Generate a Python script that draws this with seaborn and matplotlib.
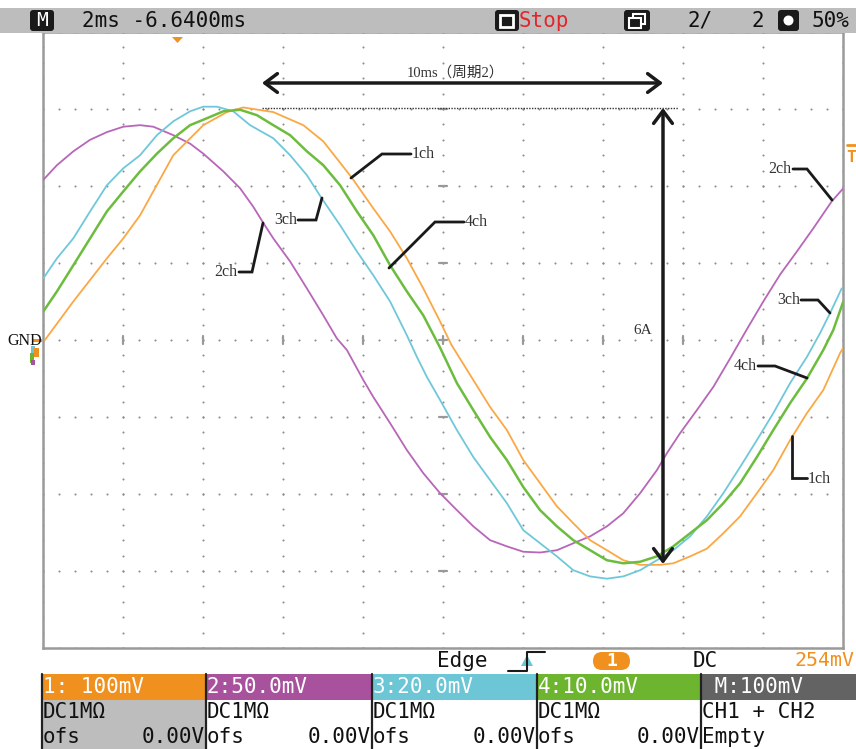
import numpy as np
import pandas as pd
import matplotlib
matplotlib.use("Agg")
import matplotlib.pyplot as plt
import seaborn as sns
from matplotlib.patches import Rectangle, FancyBboxPatch, Polygon, Circle

sns.set_theme(style="white")
plt.rcParams["font.family"] = ["DejaVu Sans", "Noto Sans CJK SC"]

# ---------------- data (time in ms, value in divisions) ----------------
ch1_t = [0.04, 0.75, 1.59, 2.0, 2.42, 3.25, 4.0, 4.59, 5.0, 5.75, 6.5, 7.0, 7.71, 8.25, 8.67,
         9.09, 9.5, 9.92, 10.2, 10.75, 11.17, 11.59, 12.0, 12.42, 12.84, 13.25, 13.67, 14.09,
         14.5, 14.92, 15.42, 15.75, 16.17, 16.59, 17.0, 17.42, 17.84, 18.25, 18.67, 19.09,
         19.5, 19.92, 20.0]
ch1_v = [0.0, 0.50, 1.06, 1.32, 1.62, 2.40, 2.79, 2.96, 3.02, 2.96, 2.79, 2.58, 2.11, 1.71, 1.41,
         1.06, 0.67, 0.24, -0.06, -0.52, -0.87, -1.17, -1.56, -1.86, -2.16, -2.38, -2.60, -2.73,
         -2.86, -2.92, -2.92, -2.90, -2.81, -2.71, -2.51, -2.29, -1.99, -1.69, -1.30, -0.95,
         -0.65, -0.17, -0.10]

ch2_t = [0, 0.34, 0.75, 1.17, 1.59, 2.0, 2.42, 2.75, 3.25, 3.67, 4.0, 4.5, 4.92, 5.25, 5.5, 5.75,
         6.17, 6.59, 7.0, 7.34, 7.59, 8.0, 8.25, 8.67, 9.09, 9.5, 9.92, 10.34, 10.75, 11.17,
         11.59, 12.0, 12.42, 12.84, 13.25, 13.67, 14.09, 14.5, 14.92, 15.34, 15.59, 15.92,
         16.34, 16.75, 17.17, 17.59, 18.0, 18.42, 18.84, 19.25, 19.71, 20.0]
ch2_v = [2.08, 2.27, 2.45, 2.60, 2.70, 2.77, 2.79, 2.77, 2.66, 2.55, 2.42, 2.19, 1.97, 1.73, 1.52,
         1.32, 1.02, 0.67, 0.32, 0.02, -0.13, -0.52, -0.74, -1.08, -1.43, -1.73, -1.99, -2.21,
         -2.42, -2.60, -2.68, -2.75, -2.76, -2.73, -2.64, -2.55, -2.42, -2.25, -1.99, -1.69,
         -1.47, -1.21, -0.91, -0.61, -0.24, 0.14, 0.50, 0.85, 1.15, 1.45, 1.80, 1.97]

ch3_t = [0, 0.34, 0.75, 1.17, 1.59, 2.0, 2.42, 2.84, 3.25, 3.67, 4.0, 4.34, 4.75, 5.17, 5.75,
         6.17, 6.59, 6.96, 7.42, 7.84, 8.25, 8.67, 9.09, 9.34, 9.59, 9.92, 10.34, 10.75, 11.17,
         11.59, 12.0, 12.42, 12.84, 13.25, 13.67, 14.09, 14.5, 14.92, 15.34, 15.75, 16.17,
         16.59, 17.0, 17.42, 17.84, 18.25, 18.67, 19.09, 19.42, 19.67, 19.96]
ch3_v = [0.80, 1.06, 1.32, 1.67, 2.01, 2.23, 2.40, 2.66, 2.84, 2.97, 3.03, 3.03, 2.97, 2.79, 2.62,
         2.40, 2.14, 1.84, 1.49, 1.15, 0.84, 0.50, 0.06, -0.22, -0.48, -0.78, -1.17, -1.52,
         -1.82, -2.12, -2.47, -2.64, -2.81, -2.99, -3.07, -3.10, -3.07, -2.99, -2.86, -2.73,
         -2.55, -2.29, -1.99, -1.65, -1.30, -0.95, -0.56, -0.22, 0.09, 0.35, 0.67]

ch4_t = [0, 0.34, 0.75, 1.17, 1.59, 2.0, 2.42, 2.84, 3.25, 3.67, 4.09, 4.5, 4.92, 5.34, 5.75,
         6.17, 6.59, 7.0, 7.42, 7.84, 8.25, 8.67, 9.09, 9.5, 9.92, 10.34, 10.75, 11.17, 11.59,
         12.0, 12.42, 12.84, 13.25, 13.67, 14.09, 14.5, 14.92, 15.34, 15.75, 16.17, 16.59,
         17.0, 17.42, 17.84, 18.25, 18.67, 19.09, 19.5, 19.75, 20.0]
ch4_v = [0.37, 0.63, 0.97, 1.32, 1.67, 1.93, 2.19, 2.42, 2.62, 2.79, 2.88, 2.97, 2.99, 2.92, 2.79,
         2.66, 2.45, 2.27, 2.01, 1.67, 1.36, 0.97, 0.63, 0.32, -0.10, -0.56, -0.91, -1.26,
         -1.56, -1.91, -2.21, -2.42, -2.60, -2.73, -2.86, -2.90, -2.88, -2.81, -2.68, -2.51,
         -2.34, -2.12, -1.86, -1.52, -1.17, -0.82, -0.50, -0.13, 0.13, 0.50]

channels = ["2ch", "1ch", "3ch", "4ch"]
header_labels = ["1: 100mV", "2:50.0mV", "3:20.0mV", "4:10.0mV", " M:100mV"]

# ---------------- colours ----------------
C_OR = "#F0901E"
C_PU = "#A8529E"
C_CY = "#6CC6D6"
C_GR = "#6DB52F"
C_MG = "#636363"
trace_pal = {"1ch": "#FBA844", "2ch": "#B866B8", "3ch": "#6FC8DA", "4ch": "#6CBD3E"}

W, H = 856, 749
fig = plt.figure(figsize=(W / 100, H / 100), dpi=100)
fig.patch.set_facecolor("white")

X0, X1 = 43.3, 843.3
Y0, Y1 = 32.0, 648.0
ax = fig.add_axes([X0 / W, 1 - Y1 / H, (X1 - X0) / W, (Y1 - Y0) / H])
ax.set_xlim(0, 20)
ax.set_ylim(-4, 4)
ax.set_facecolor("white")

# dotted graticule
gcol = "#8c8c8c"
for gx in np.arange(0, 20.01, 2):
    ys = np.arange(-4, 4.001, 0.2)
    ax.scatter(np.full_like(ys, gx), ys, s=2.2, color=gcol, linewidths=0, zorder=1)
for gy in np.arange(-4, 4.01, 1):
    xs = np.arange(0, 20.001, 0.4)
    ax.scatter(xs, np.full_like(xs, gy), s=2.2, color=gcol, linewidths=0, zorder=1)
for gx in np.arange(2, 19.9, 2):
    ax.plot([gx, gx], [-0.055, 0.055], color="#999999", lw=1.6, zorder=1)
for gy in np.arange(-3, 3.1, 1):
    ax.plot([9.9, 10.1], [gy, gy], color="#999999", lw=1.6, zorder=1)

df = pd.concat([
    pd.DataFrame({"t": ch2_t, "v": ch2_v, "ch": "2ch"}),
    pd.DataFrame({"t": ch1_t, "v": ch1_v, "ch": "1ch"}),
    pd.DataFrame({"t": ch3_t, "v": ch3_v, "ch": "3ch"}),
    pd.DataFrame({"t": ch4_t, "v": ch4_v, "ch": "4ch"}),
])
for ch in channels:
    sub = df[df["ch"] == ch]
    sns.lineplot(data=sub, x="t", y="v", color=trace_pal[ch], sort=False, estimator=None,
                 lw=1.8 if ch == "4ch" else 1.3, ax=ax, legend=False, zorder=3)

ax.set_xticks([])
ax.set_yticks([])
ax.set_xlabel("")
ax.set_ylabel("")
for sp in ax.spines.values():
    sp.set_color("#9a9a9a")
    sp.set_linewidth(1.8)

# ---------------- overlay in pixel coordinates ----------------
ov = fig.add_axes([0, 0, 1, 1], zorder=5)
ov.set_xlim(0, W)
ov.set_ylim(H, 0)
ov.axis("off")
ov.patch.set_alpha(0)

MONO = "DejaVu Sans Mono"
FS = 15

# header bar
ov.add_patch(Rectangle((0, 8), W, 25, fc="#BDBDBD", ec="none"))
ov.add_patch(FancyBboxPatch((30, 10), 24, 21, boxstyle="round,pad=0,rounding_size=3",
                            fc="#1a1a1a", ec="none"))
ov.text(42, 21, "M", color="white", family=MONO, fontsize=14, ha="center", va="center")
ov.text(82, 21, "2ms -6.6400ms", color="#111111", family=MONO, fontsize=FS, va="center")
ov.add_patch(FancyBboxPatch((495, 10), 24, 21, boxstyle="round,pad=0,rounding_size=3",
                            fc="#1a1a1a", ec="none"))
ov.add_patch(Rectangle((500.5, 14.5), 13, 12.5, fill=False, ec="white", lw=2))
ov.text(519, 21, "Stop", color="#E4252B", family=MONO, fontsize=FS, va="center")
ov.add_patch(FancyBboxPatch((624, 10), 26, 21, boxstyle="round,pad=0,rounding_size=3",
                            fc="#1a1a1a", ec="none"))
ov.add_patch(Rectangle((633, 14), 12, 10, fill=False, ec="white", lw=1.5))
ov.add_patch(Rectangle((629, 18), 12, 10, fc="#1a1a1a", ec="white", lw=1.5))
ov.text(688, 21, "2/", color="#111111", family=MONO, fontsize=FS, va="center")
ov.text(752, 21, "2", color="#111111", family=MONO, fontsize=FS, va="center")
ov.add_patch(FancyBboxPatch((778, 10), 21, 21, boxstyle="round,pad=0,rounding_size=3",
                            fc="#1a1a1a", ec="none"))
ov.add_patch(Circle((788.5, 20.5), 5, fc="white", ec="none"))
ov.text(812, 21, "50%", color="#111111", family=MONO, fontsize=FS, va="center")

# trigger position marker (top) and level marker (right)
ov.add_patch(Polygon([(172, 37), (183, 37), (177.5, 43)], fc=C_OR, ec="none"))
ov.plot([847, 856], [145, 145], color=C_OR, lw=2)
ov.text(846, 158, "T", color=C_OR, family=MONO, fontsize=11.5, fontweight="bold",
        va="center")

# GND label & ground markers
ov.text(42, 341, "GND", family=["Liberation Serif"], fontsize=11.5, color="#111111",
        ha="right", va="center")
ov.add_patch(Rectangle((33, 339), 9, 3, fc=C_OR, ec="none"))
ov.add_patch(Rectangle((31, 346), 4, 7, fc=C_CY, ec="none"))
ov.add_patch(Rectangle((34, 348), 5, 9, fc=C_OR, ec="none"))
ov.add_patch(Rectangle((30, 353), 4, 10, fc=C_GR, ec="none"))
ov.add_patch(Rectangle((31, 360), 4, 5, fc=C_PU, ec="none"))

# measurement annotations
ov.annotate("", xy=(262, 83), xytext=(663, 83),
            arrowprops=dict(arrowstyle="<->,head_length=0.6,head_width=0.45", lw=2.5,
                            color="#1a1a1a", mutation_scale=15, shrinkA=0, shrinkB=0))
ov.text(407, 73, "10ms（周期2）", family=["Liberation Serif", "Noto Sans CJK SC"],
        fontsize=10.5, color="#333333", ha="left", va="center")
ov.plot([262, 678], [108, 108], color="#333333", lw=1, ls=(0, (1, 1)))
ov.annotate("", xy=(663, 108), xytext=(663, 564),
            arrowprops=dict(arrowstyle="<->,head_length=0.6,head_width=0.45", lw=2.5,
                            color="#1a1a1a", mutation_scale=15, shrinkA=0, shrinkB=0))
ov.text(643, 330, "6A", family=["Liberation Serif"], fontsize=11, color="#333333",
        ha="center", va="center")

# callouts
SERIF = ["Liberation Serif"]
callouts = [
    ("1ch", 412, 154, "left", [(411, 154), (382, 154), (351, 178)]),
    ("3ch", 297, 220, "right", [(298, 220), (316, 220), (322, 198)]),
    ("2ch", 237, 272, "right", [(239, 272), (252, 272), (263, 223)]),
    ("4ch", 465, 222, "left", [(464, 222), (435, 222), (389, 268)]),
    ("2ch", 791, 169, "right", [(793, 169), (807, 169), (832, 200)]),
    ("3ch", 800, 300, "right", [(801, 300), (818, 300), (830, 313)]),
    ("4ch", 757, 366, "right", [(758, 366), (775, 366), (807, 378)]),
    ("1ch", 808, 479, "left", [(807, 478), (792, 478), (792, 436)]),
]
for txt, tx, ty, ha, pts in callouts:
    xs, ys = zip(*pts)
    ov.plot(xs, ys, color="#1a1a1a", lw=2, solid_joinstyle="miter")
    ov.text(tx, ty, txt, family=SERIF, fontsize=11.5, color="#333333", ha=ha, va="center")

# trigger status row
ov.text(437, 661, "Edge", family=MONO, fontsize=FS, color="#111111", va="center")
ov.plot([508, 527, 527, 545], [671, 671, 652, 652], color="#1a1a1a", lw=1.5)
ov.add_patch(Polygon([(521, 666), (533, 666), (527, 655)], fc=C_CY, ec="none"))
ov.add_patch(FancyBboxPatch((593, 652), 37, 18, boxstyle="round,pad=0,rounding_size=9",
                            fc=C_OR, ec="none"))
ov.text(611.5, 661, "1", family=MONO, fontsize=13, color="white", fontweight="bold",
        ha="center", va="center")
ov.text(693, 661, "DC", family=MONO, fontsize=FS, color="#111111", va="center")
ov.text(855, 661, "254mV", family=MONO, fontsize=14.3, color=C_OR, va="center", ha="right")

# channel boxes
edges = [42, 206, 372, 537, 701, W]
hdr_cols = [C_OR, C_PU, C_CY, C_GR, C_MG]
for i in range(5):
    xl, xr = edges[i], edges[i + 1]
    ov.add_patch(Rectangle((xl, 674), xr - xl, 26, fc=hdr_cols[i], ec="none"))
    if i == 0:
        ov.add_patch(Rectangle((xl, 700), xr - xl, 49, fc="#BDBDBD", ec="none"))
    ov.text(xl + 1, 687, header_labels[i], family=MONO, fontsize=FS, color="white",
            va="center")
    if i < 4:
        ov.text(xl + 1, 712, "DC1MΩ", family=MONO, fontsize=FS, color="#111111", va="center")
        ov.text(xl + 1, 737, "ofs", family=MONO, fontsize=FS, color="#111111", va="center")
        ov.text(xr - 1, 737, "0.00V", family=MONO, fontsize=FS, color="#111111",
                va="center", ha="right")
    else:
        ov.text(xl + 1, 712, "CH1 + CH2", family=MONO, fontsize=FS, color="#111111",
                va="center")
        ov.text(xl + 1, 737, "Empty", family=MONO, fontsize=FS, color="#111111", va="center")
for xe in edges[:5]:
    ov.plot([xe, xe], [674, 749], color="#222222", lw=1.6)

fig.savefig("out.png", dpi=100, facecolor="white")
